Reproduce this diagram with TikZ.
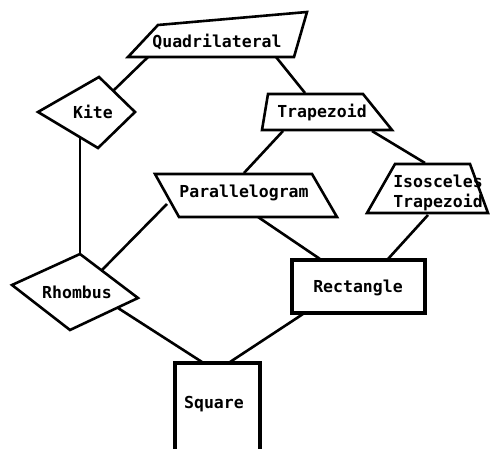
\documentclass[tikz,border=0pt]{standalone}
\usepackage{fontspec}
\setmonofont{DejaVu Sans Mono}
\usetikzlibrary{positioning}
\tikzset{
  outline/.style={draw, line width=2.6pt, fill=white, line join=miter},
  link/.style={line width=2.6pt},
  lbl/.style={font=\ttfamily\bfseries\fontsize{16.5}{19.5}\selectfont, align=center, inner sep=0pt}
}

\begin{document}
\begin{tikzpicture}[x=1pt, y=-1pt]
    \useasboundingbox (0,0) rectangle (490,449);

    % connector ends
    \coordinate (qk) at (148,57);   \coordinate (kq) at (113,91);
    \coordinate (qt) at (276,57);   \coordinate (tq) at (305,93);
    \coordinate (kr) at (80,137);   \coordinate (rk) at (80,254);
    \coordinate (tp) at (283,131);  \coordinate (pt) at (244,173);
    \coordinate (ti) at (372,131);  \coordinate (it) at (425,163);
    \coordinate (pr) at (167,204);  \coordinate (rp) at (102,270);
    \coordinate (pre) at (258,217); \coordinate (rep) at (320,259);
    \coordinate (ire) at (428,215); \coordinate (rei) at (388,259);
    \coordinate (rs) at (118,308);  \coordinate (sr) at (202,362);
    \coordinate (res) at (303,314); \coordinate (sre) at (230,362);

    \draw[link] (qk) -- (kq);
    \draw[link] (qt) -- (tq);
    \draw[link] (kr) -- (rk);
    \draw[link] (tp) -- (pt);
    \draw[link] (ti) -- (it);
    \draw[link] (pr) -- (rp);
    \draw[link] (pre) -- (rep);
    \draw[link] (ire) -- (rei);
    \draw[link] (rs) -- (sr);
    \draw[link] (res) -- (sre);

    % shapes
    \draw[outline] (128,57) -- (158,25) -- (307,12) -- (294,57) -- cycle;
    \draw[outline] (99,77) -- (135,112) -- (98,148) -- (38,112) -- cycle;
    \draw[outline] (268,94) -- (363,94) -- (392,130) -- (262,130) -- cycle;
    \draw[outline] (155,174) -- (312,174) -- (337,217) -- (179,217) -- cycle;
    \draw[outline] (395,164) -- (470,164) -- (488,213) -- (367,213) -- cycle;
    \draw[outline] (80,254) -- (138,298) -- (70,330) -- (12,285) -- cycle;
    \draw[outline, line width=3.2pt] (292,260) -- (425,260) -- (425,313) -- (292,313) -- cycle;
    \draw[outline, line width=3.2pt] (175,363) -- (260,363) -- (260,456) -- (175,456) -- cycle;

    % labels
    \node[lbl] (quad) at (217,42) {Quadrilateral};
    \node[lbl] (kite) at (93,112) {Kite};
    \node[lbl] (trap) at (322,113) {Trapezoid};
    \node[lbl] (para) at (244,193) {Parallelogram};
    \node[lbl] (isos) at (438,193) {Isosceles\\Trapezoid};
    \node[lbl] (rhom) at (77,292) {Rhombus};
    \node[lbl] (rect) at (358,288) {Rectangle};
    \node[lbl] (squa) at (214,404) {Square};
\end{tikzpicture}
\end{document}
